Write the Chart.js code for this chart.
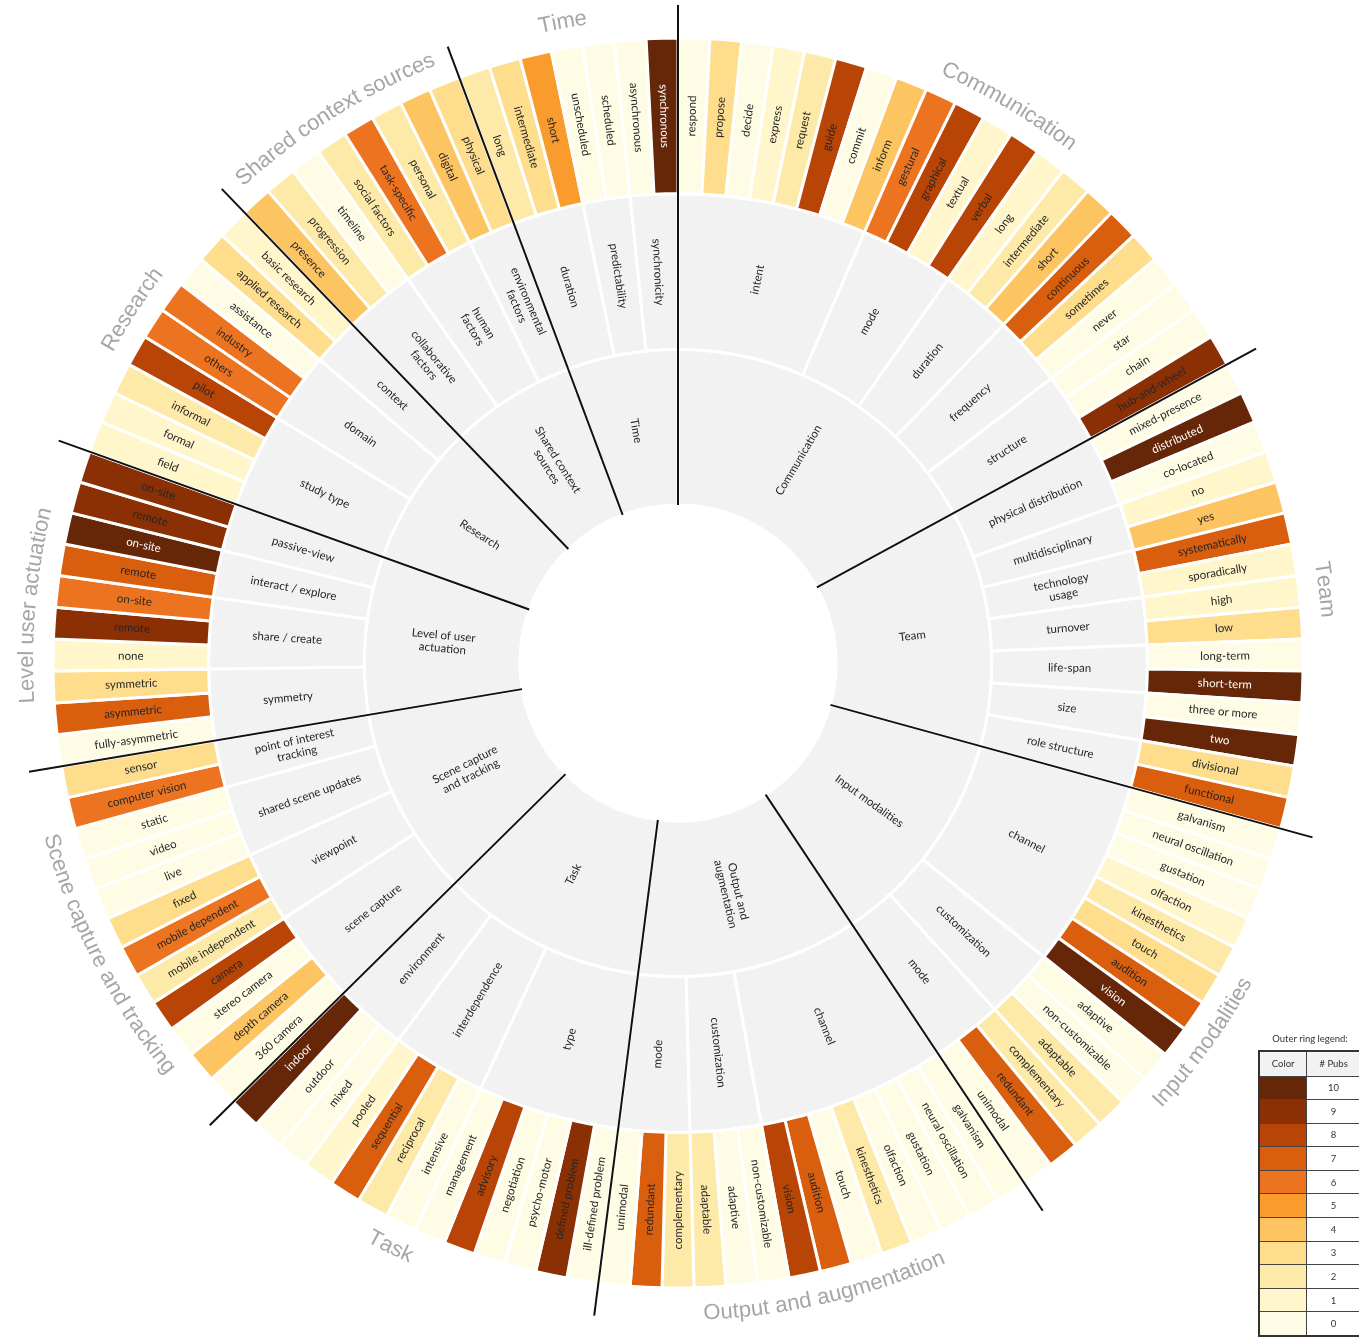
<!DOCTYPE html>
<html>
<head>
<meta charset="utf-8">
<script src="https://cdn.jsdelivr.net/npm/chart.js@4.4.1/dist/chart.umd.min.js"></script>
<style>
  html, body { margin: 0; padding: 0; background: #fff; overflow: hidden; }
  #wrap { position: relative; width: 1359px; height: 1337px; }
  #legend { position: absolute; left: 1258px; top: 1033px; font-family: Lato, sans-serif; color: #333; }
  #legend .ttl { font-size: 9.5px; text-align: center; width: 104px; margin-bottom: 6px; }
  #legend table { border-collapse: collapse; border: 2px solid #333; }
  #legend td { border: 1px solid #444; padding: 0; font-size: 9.5px; text-align: center; box-sizing: border-box; }
  #legend tr.head td { background: #f2f2f2; height: 25px; }
  #legend tr.row td { height: 23.6px; background: #fff; }
</style>
</head>
<body>
<div id="wrap">
  <canvas id="chart" width="1359" height="1337"></canvas>
  <div id="legend"><div class="ttl">Outer ring legend:</div><table id="legendTable"></table></div>
</div>
<script>
// inner ring, clockwise from 12 o'clock
const categories = ['Communication', 'Team', 'Input modalities', 'Output and\naugmentation', 'Task',
  'Scene capture\nand tracking', 'Level of user\nactuation', 'Research', 'Shared context\nsources', 'Time'];
// grey titles round the outside
const ringTitles = ['Communication', 'Team', 'Input modalities', 'Output and augmentation', 'Task',
  'Scene capture and tracking', 'Level user actuation', 'Research', 'Shared context sources', 'Time'];
const subsPerCategory = [5, 7, 3, 3, 3, 4, 4, 3, 3, 3];

// middle ring
const subcategories = ['intent', 'mode', 'duration', 'frequency', 'structure',
  'physical distribution', 'multidisciplinary', 'technology\nusage', 'turnover', 'life-span', 'size', 'role structure',
  'channel', 'customization', 'mode',
  'channel', 'customization', 'mode',
  'type', 'interdependence', 'environment',
  'scene capture', 'viewpoint', 'shared scene updates', 'point of interest\ntracking',
  'symmetry', 'share / create', 'interact / explore', 'passive-view',
  'study type', 'domain', 'context',
  'collaborative\nfactors', 'human\nfactors', 'environmental\nfactors',
  'duration', 'predictability', 'synchronicity'];
const leavesPerSub = [8, 4, 3, 3, 3, 3, 2, 2, 2, 2, 2, 2, 8, 3, 3, 8, 3, 3, 6, 4, 3,
  4, 3, 3, 2, 3, 3, 2, 2, 4, 3, 2, 3, 3, 2, 3, 2, 2];

// outer ring
const leaves = [
  'respond', 'propose', 'decide', 'express', 'request', 'guide', 'commit', 'inform',
  'gestural', 'graphical', 'textual', 'verbal',
  'long', 'intermediate', 'short',
  'continuous', 'sometimes', 'never',
  'star', 'chain', 'hub-and-wheel',
  'mixed-presence', 'distributed', 'co-located',
  'no', 'yes',
  'systematically', 'sporadically',
  'high', 'low',
  'long-term', 'short-term',
  'three or more', 'two',
  'divisional', 'functional',
  'galvanism', 'neural oscillation', 'gustation', 'olfaction', 'kinesthetics', 'touch', 'audition', 'vision',
  'adaptive', 'non-customizable', 'adaptable',
  'complementary', 'redundant', 'unimodal',
  'galvanism', 'neural oscillation', 'gustation', 'olfaction', 'kinesthetics', 'touch', 'audition', 'vision',
  'non-customizable', 'adaptive', 'adaptable',
  'complementary', 'redundant', 'unimodal',
  'ill-defined problem', 'defined problem', 'psycho-motor', 'negotiation', 'advisory', 'management',
  'intensive', 'reciprocal', 'sequential', 'pooled',
  'mixed', 'outdoor', 'indoor',
  '360 camera', 'depth camera', 'stereo camera', 'camera',
  'mobile independent', 'mobile dependent', 'fixed',
  'live', 'video', 'static',
  'computer vision', 'sensor',
  'fully-asymmetric', 'asymmetric', 'symmetric',
  'none', 'remote', 'on-site',
  'remote', 'on-site',
  'remote', 'on-site',
  'field', 'formal', 'informal', 'pilot',
  'others', 'industry', 'assistance',
  'applied research', 'basic research',
  'presence', 'progression', 'timeline',
  'social factors', 'task-specific', 'personal',
  'digital', 'physical',
  'long', 'intermediate', 'short',
  'unscheduled', 'scheduled',
  'asynchronous', 'synchronous'
];
const pubs = [
  0, 3, 0, 1, 2, 8, 0, 4,
  6, 8, 1, 8,
  1, 2, 4,
  7, 3, 0,
  0, 0, 9,
  0, 10, 0,
  1, 4,
  7, 1,
  1, 3,
  0, 10,
  0, 10,
  3, 7,
  0, 0, 0, 1, 2, 3, 7, 10,
  0, 0, 2,
  2, 7, 0,
  0, 0, 0, 0, 2, 0, 7, 8,
  0, 0, 2,
  2, 7, 0,
  0, 9, 0, 0, 8, 0,
  0, 2, 7, 1,
  0, 0, 10,
  0, 4, 0, 8,
  2, 6, 3,
  0, 0, 0,
  6, 3,
  0, 7, 3,
  1, 9, 6,
  7, 10,
  9, 9,
  1, 1, 2, 8,
  6, 6, 0,
  3, 1,
  4, 2, 0,
  2, 6, 2,
  4, 3,
  2, 3, 5,
  0, 0,
  0, 10
];

// legend: # pubs -> colour
const legendValues = [10, 9, 8, 7, 6, 5, 4, 3, 2, 1, 0];
const pubColors = ['#fffce6', '#fff6cb', '#feeaa8', '#fedd8d', '#fdc462', '#f99b2d',
  '#ec7420', '#d95e0d', '#b84506', '#8b3005', '#662608'];

// ring sizes come from leaf counts so the three rings line up
let k = 0;
const categorySizes = subsPerCategory.map(n => {
  let s = 0;
  for (let j = 0; j < n; j++) s += leavesPerSub[k++];
  return s;
});

const labelPlugin = {
  id: 'labelPlugin',
  afterDatasetsDraw(chart) {
    const ctx = chart.ctx;
    ctx.save();
    chart.data.datasets.forEach((ds, d) => {
      const meta = chart.getDatasetMeta(d);
      meta.data.forEach((arc, i) => {
        const p = arc.getProps(['x', 'y', 'startAngle', 'endAngle', 'innerRadius', 'outerRadius'], true);
        const mid = (p.startAngle + p.endAngle) / 2;
        const r = (p.innerRadius + p.outerRadius) / 2;
        const lines = ds.names[i].split('\n');
        ctx.save();
        ctx.translate(p.x + Math.cos(mid) * r, p.y + Math.sin(mid) * r);
        ctx.rotate(Math.cos(mid) > 0.01 ? mid : mid + Math.PI);
        ctx.font = '11.5px Lato';
        ctx.fillStyle = d === 0 && pubs[i] >= 10 ? '#ffffff' : '#262626';
        ctx.textAlign = 'center';
        ctx.textBaseline = 'middle';
        lines.forEach((t, n) => ctx.fillText(t, 0, (n - (lines.length - 1) / 2) * 13));
        ctx.restore();
      });
    });

    // category separators and curved titles
    const inner = chart.getDatasetMeta(2).data;
    inner.forEach((arc, i) => {
      const p = arc.getProps(['x', 'y', 'startAngle', 'endAngle', 'innerRadius'], true);
      const a = p.startAngle;
      ctx.beginPath();
      ctx.moveTo(p.x + Math.cos(a) * p.innerRadius, p.y + Math.sin(a) * p.innerRadius);
      ctx.lineTo(p.x + Math.cos(a) * 658, p.y + Math.sin(a) * 658);
      ctx.strokeStyle = '#111';
      ctx.lineWidth = 2;
      ctx.stroke();
      drawCurved(ctx, ringTitles[i], p.x, p.y, 651, (p.startAngle + p.endAngle) / 2);
    });
    ctx.restore();
  }
};

function drawCurved(ctx, text, cx, cy, r, mid) {
  ctx.font = '22px "Liberation Sans"';
  ctx.fillStyle = '#a6a6a6';
  ctx.textAlign = 'center';
  ctx.textBaseline = 'middle';
  const span = ctx.measureText(text).width / r;
  const ccw = Math.sin(mid) > 0;
  let off = 0;
  for (const ch of text) {
    const cw = ctx.measureText(ch).width;
    const a = ccw ? mid + span / 2 - (off + cw / 2) / r : mid - span / 2 + (off + cw / 2) / r;
    ctx.save();
    ctx.translate(cx + r * Math.cos(a), cy + r * Math.sin(a));
    ctx.rotate(ccw ? a - Math.PI / 2 : a + Math.PI / 2);
    ctx.fillText(ch, 0, 0);
    ctx.restore();
    off += cw;
  }
}

new Chart(document.getElementById('chart'), {
  type: 'doughnut',
  data: {
    labels: leaves,
    datasets: [
      { data: leaves.map(() => 1), names: leaves, backgroundColor: pubs.map(v => pubColors[v]),
        borderColor: '#fff', borderWidth: 3 },
      { data: leavesPerSub, names: subcategories, backgroundColor: '#f2f2f2',
        borderColor: '#fff', borderWidth: 3 },
      { data: categorySizes, names: categories, backgroundColor: '#f2f2f2',
        borderColor: '#fff', borderWidth: 3 }
    ]
  },
  options: {
    responsive: false,
    animation: false,
    radius: 625,
    cutout: '25.3%',
    layout: { padding: { left: 53, right: 56, top: 38, bottom: 49 } },
    plugins: { legend: { display: false }, tooltip: { enabled: false } }
  },
  plugins: [labelPlugin]
});

// legend table
const tbl = document.getElementById('legendTable');
let html = '<tr class="head"><td style="width:49px">Color</td><td style="width:56px"># Pubs</td></tr>';
legendValues.forEach(v => {
  html += '<tr class="row"><td style="background:' + pubColors[v] + '"></td><td>' + v + '</td></tr>';
});
tbl.innerHTML = html;
</script>
</body>
</html>
